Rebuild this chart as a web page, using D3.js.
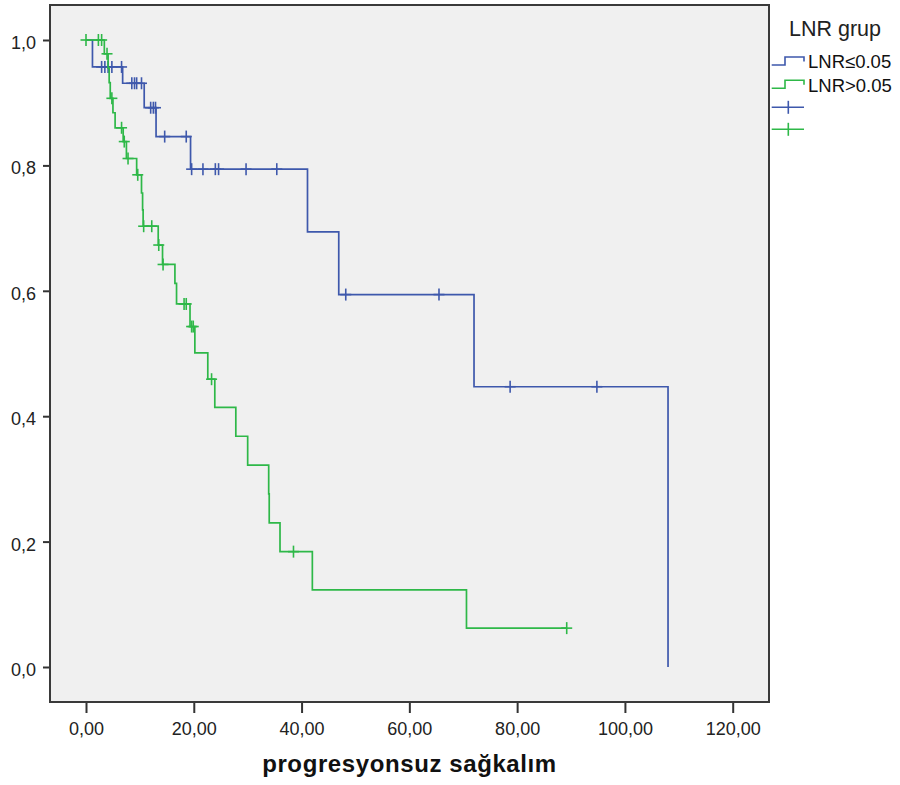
<!DOCTYPE html>
<html>
<head>
<meta charset="utf-8">
<script src="https://cdn.jsdelivr.net/npm/d3@7"></script>
<style>
  html, body { margin: 0; padding: 0; background: #ffffff; }
  svg { display: block; font-family: "Liberation Sans", Arial, sans-serif; }
</style>
</head>
<body>
<svg id="chart" width="900" height="785"></svg>
<script>
// ---------- DATA ----------
const xTicks = [0, 20, 40, 60, 80, 100, 120];
const yTicks = [0, 0.2, 0.4, 0.6, 0.8, 1.0];
const xTitle = "progresyonsuz sağkalım";
const legendTitle = "LNR grup";
const groupNames = ["LNR\u22640.05", "LNR>0.05"];
const groupColors = ["#3e58ac", "#2eb848"];

// LNR <= 0.05 : event times and survival after each event
const blueTimes = [0, 1.2, 6.8, 10.8, 13.0, 19.4, 41.1, 46.9, 72.0, 108.0];
const blueSurv  = [1.0, 0.957, 0.931, 0.892, 0.846, 0.794, 0.694, 0.594, 0.447, 0.0];
const blueCens  = [2.9, 3.5, 4.1, 4.8, 6.6, 8.5, 9.0, 9.4, 10.3, 12.0, 12.5, 12.9,
                   14.6, 18.6, 19.6, 21.7, 24.0, 24.6, 29.7, 35.4, 48.2, 65.5, 78.7, 94.8];

// LNR > 0.05
const greenTimes = [0, 3.4, 4.1, 4.3, 4.5, 5.0, 5.4, 6.9, 7.5, 9.4, 10.3, 10.5, 10.6,
                    13.4, 14.2, 16.5, 16.8, 19.3, 20.2, 22.6, 23.9, 27.8, 30.0, 33.9,
                    34.0, 36.0, 42.0, 70.6];
const greenSurv  = [1.0, 0.978, 0.955, 0.932, 0.907, 0.884, 0.860, 0.838, 0.811, 0.785,
                    0.756, 0.729, 0.703, 0.673, 0.642, 0.612, 0.579, 0.543, 0.501, 0.459,
                    0.414, 0.368, 0.322, 0.276, 0.230, 0.184, 0.123, 0.062];
const greenCens  = [0.0, 2.3, 2.9, 3.9, 4.8, 6.6, 7.1, 7.8, 9.6, 10.7, 12.2, 13.5, 14.3,
                    18.2, 18.6, 19.6, 19.9, 23.3, 38.5, 89.2];

// ---------- LAYOUT ----------
const svg = d3.select("#chart");
const frame = { left: 50, top: 5, right: 769, bottom: 702 };

const x = d3.scaleLinear().domain([0, 120]).range([86, 732.7]);
const y = d3.scaleLinear().domain([0, 1]).range([667, 40]);

// plot background
svg.append("rect")
  .attr("x", frame.left).attr("y", frame.top)
  .attr("width", frame.right - frame.left).attr("height", frame.bottom - frame.top)
  .attr("fill", "#f0f0f0");

const fmt = d3.format(".2f");
const comma = s => s.replace(".", ",");

// axes
const yAxis = svg.append("g")
  .attr("transform", `translate(${frame.left},0)`)
  .call(d3.axisLeft(y).tickValues(yTicks).tickSize(7).tickPadding(6)
        .tickFormat(d => comma(d3.format(".1f")(d))));
const xAxis = svg.append("g")
  .attr("transform", `translate(0,${frame.bottom})`)
  .call(d3.axisBottom(x).tickValues(xTicks).tickSize(11).tickPadding(8)
        .tickFormat(d => comma(fmt(d))));

[xAxis, yAxis].forEach(g => {
  g.select(".domain").remove();
  g.selectAll(".tick line").attr("stroke", "#333").attr("stroke-width", 2);
  g.selectAll(".tick text").attr("fill", "#222").style("font-size", "18px")
    .style("font-family", '"Liberation Sans", Arial, sans-serif');
});
yAxis.selectAll(".tick text").attr("dy", "8.5").attr("x", -14);
xAxis.selectAll(".tick text").attr("dy", "0.78em");

// KM curves
function stepPath(times, surv, cens) {
  const end = Math.max(times[times.length - 1], d3.max(cens));
  const pts = [];
  for (let i = 0; i < times.length; i++) {
    if (i > 0) pts.push([times[i], surv[i - 1]]);
    pts.push([times[i], surv[i]]);
  }
  if (end > times[times.length - 1]) pts.push([end, surv[surv.length - 1]]);
  return pts;
}
function survAt(times, surv, t) {
  const i = d3.bisectRight(times, t) - 1;
  return surv[Math.max(0, i)];
}

const line = d3.line().x(d => x(d[0])).y(d => y(d[1]));

const groups = [
  { times: blueTimes, surv: blueSurv, cens: blueCens, color: groupColors[0] },
  { times: greenTimes, surv: greenSurv, cens: greenCens, color: groupColors[1] }
];

groups.forEach(g => {
  svg.append("path")
    .attr("d", line(stepPath(g.times, g.surv, g.cens)))
    .attr("fill", "none").attr("stroke", g.color).attr("stroke-width", 1.7);
  const cg = svg.append("g").attr("stroke", g.color).attr("stroke-width", 1.6);
  g.cens.forEach(t => {
    const cx = x(t), cy = y(survAt(g.times, g.surv, t));
    cg.append("line").attr("x1", cx - 5.5).attr("x2", cx + 5.5).attr("y1", cy).attr("y2", cy);
    cg.append("line").attr("x1", cx).attr("x2", cx).attr("y1", cy - 6).attr("y2", cy + 6);
  });
});

// frame
svg.append("rect")
  .attr("x", frame.left).attr("y", frame.top)
  .attr("width", frame.right - frame.left).attr("height", frame.bottom - frame.top)
  .attr("fill", "none").attr("stroke", "#3a3a3a").attr("stroke-width", 2);

// x title
svg.append("text")
  .attr("x", 409.5).attr("y", 772)
  .attr("text-anchor", "middle")
  .style("font-size", "24px").style("font-weight", "bold").style("letter-spacing", "0.6px")
  .attr("fill", "#111")
  .text(xTitle);

// legend
const lg = svg.append("g");
lg.append("text").attr("x", 789).attr("y", 36)
  .style("font-size", "21.5px").attr("fill", "#222").text(legendTitle);

const legendRows = [0, 1];
legendRows.forEach(i => {
  const base = 65 + i * 23.3;
  lg.append("path")
    .attr("d", `M771.7,${base} H785 V${base - 8} H804 V${base - 3.5}`)
    .attr("fill", "none").attr("stroke", groupColors[i]).attr("stroke-width", 1.6);
  lg.append("text").attr("x", 808).attr("y", base + 3.3)
    .style("font-size", "18.5px").attr("fill", "#111").text(groupNames[i]);
  const cy = 107.3 + i * 22;
  lg.append("line").attr("x1", 771.7).attr("x2", 804).attr("y1", cy).attr("y2", cy)
    .attr("stroke", groupColors[i]).attr("stroke-width", 1.6);
  lg.append("line").attr("x1", 788.3).attr("x2", 788.3).attr("y1", cy - 6.5).attr("y2", cy + 6.5)
    .attr("stroke", groupColors[i]).attr("stroke-width", 1.6);
});
</script>
</body>
</html>
